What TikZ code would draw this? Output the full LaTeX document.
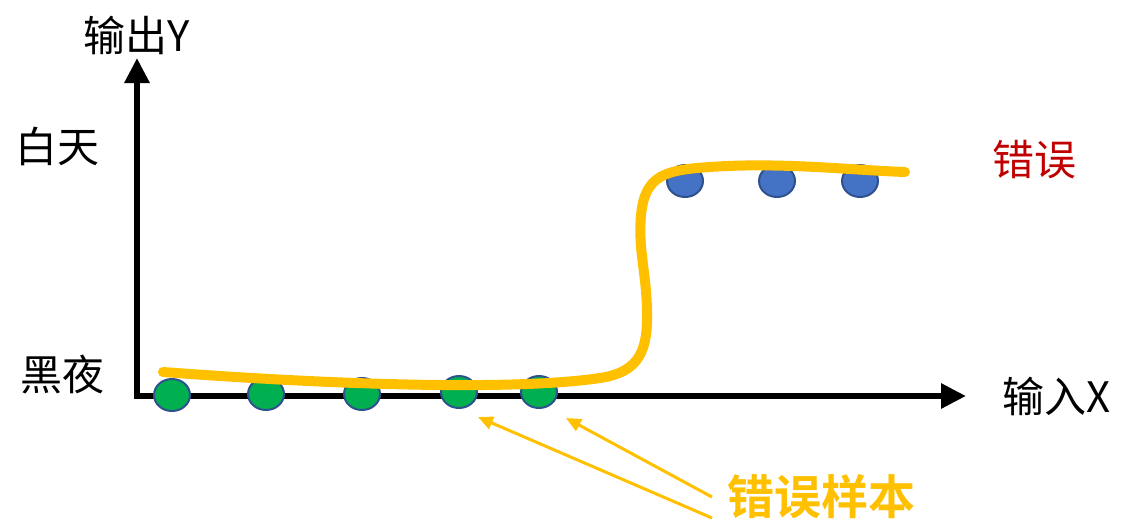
\documentclass[tikz,border=0pt]{standalone}
\usepackage{fontspec}
\setmainfont{Noto Sans CJK SC}
\newfontfamily\cjkb{Noto Sans CJK SC Bold}
\usetikzlibrary{arrows.meta,shapes.geometric}
\definecolor{gold}{HTML}{FFC000}
\definecolor{darkred}{HTML}{C00000}
\definecolor{dotgreen}{HTML}{00B050}
\definecolor{dotblue}{HTML}{4472C4}
\definecolor{dotedge}{HTML}{2F528F}
\tikzset{
  axis/.style={line width=6pt, -{Triangle[length=25pt,width=24pt]}},
  lbl/.style={inner sep=0pt, font=\fontsize{42}{44}\selectfont},
  gdot/.style={ellipse, draw=dotedge, line width=2pt, fill=dotgreen, minimum width=36pt, minimum height=32pt, inner sep=0pt},
  bdot/.style={ellipse, draw=dotedge, line width=2pt, fill=dotblue, minimum width=36pt, minimum height=32pt, inner sep=0pt},
  fit curve/.style={draw=gold, line width=10pt, line cap=round},
  pointer/.style={draw=gold, line width=3pt, -{Triangle[length=15pt,width=13pt]}}
}
\begin{document}
\begin{tikzpicture}[x=1pt,y=-1pt]
\useasboundingbox (0,0) rectangle (1124,523);
\coordinate (O) at (137,396);
\coordinate (ytip) at (137,58);
\coordinate (xtip) at (966,396);
\draw[axis] (137,399) -- (ytip);
\draw[axis] (134,396) -- (xtip);
\node[lbl] (ylab) at (137,35) {输出Y};
\node[lbl] (day) at (58,146) {白天};
\node[lbl] (night) at (62,374) {黑夜};
\node[lbl] (xlab) at (1057,396) {输入X};
\node[lbl, text=darkred] (err) at (1034,160) {错误};
\node[gdot] (g1) at (172,395) {};
\node[gdot] (g2) at (266,394) {};
\node[gdot] (g3) at (362,394) {};
\node[gdot] (g4) at (459,392) {};
\node[gdot] (g5) at (539,392) {};
\node[bdot] (b1) at (685,181) {};
\node[bdot] (b2) at (777,181) {};
\node[bdot] (b3) at (860,181) {};
\draw[fit curve] (163,372) .. controls (350,386) and (520,390) .. (600,378)
  .. controls (640,372) and (648,350) .. (647,310)
  .. controls (646,270) and (638,250) .. (641,215)
  .. controls (645,175) and (665,170) .. (710,167)
  .. controls (780,162) and (850,170) .. (905,172);
\node[inner sep=0pt, text=gold, font=\cjkb\fontsize{47}{49}\selectfont] (samples) at (821,497) {错误样本};
\coordinate (t1) at (712,518);
\coordinate (t2) at (712,497);
\coordinate (h1) at (478,417);
\coordinate (h2) at (566,418);
\draw[pointer] (t1) -- (h1);
\draw[pointer] (t2) -- (h2);
\end{tikzpicture}
\end{document}
